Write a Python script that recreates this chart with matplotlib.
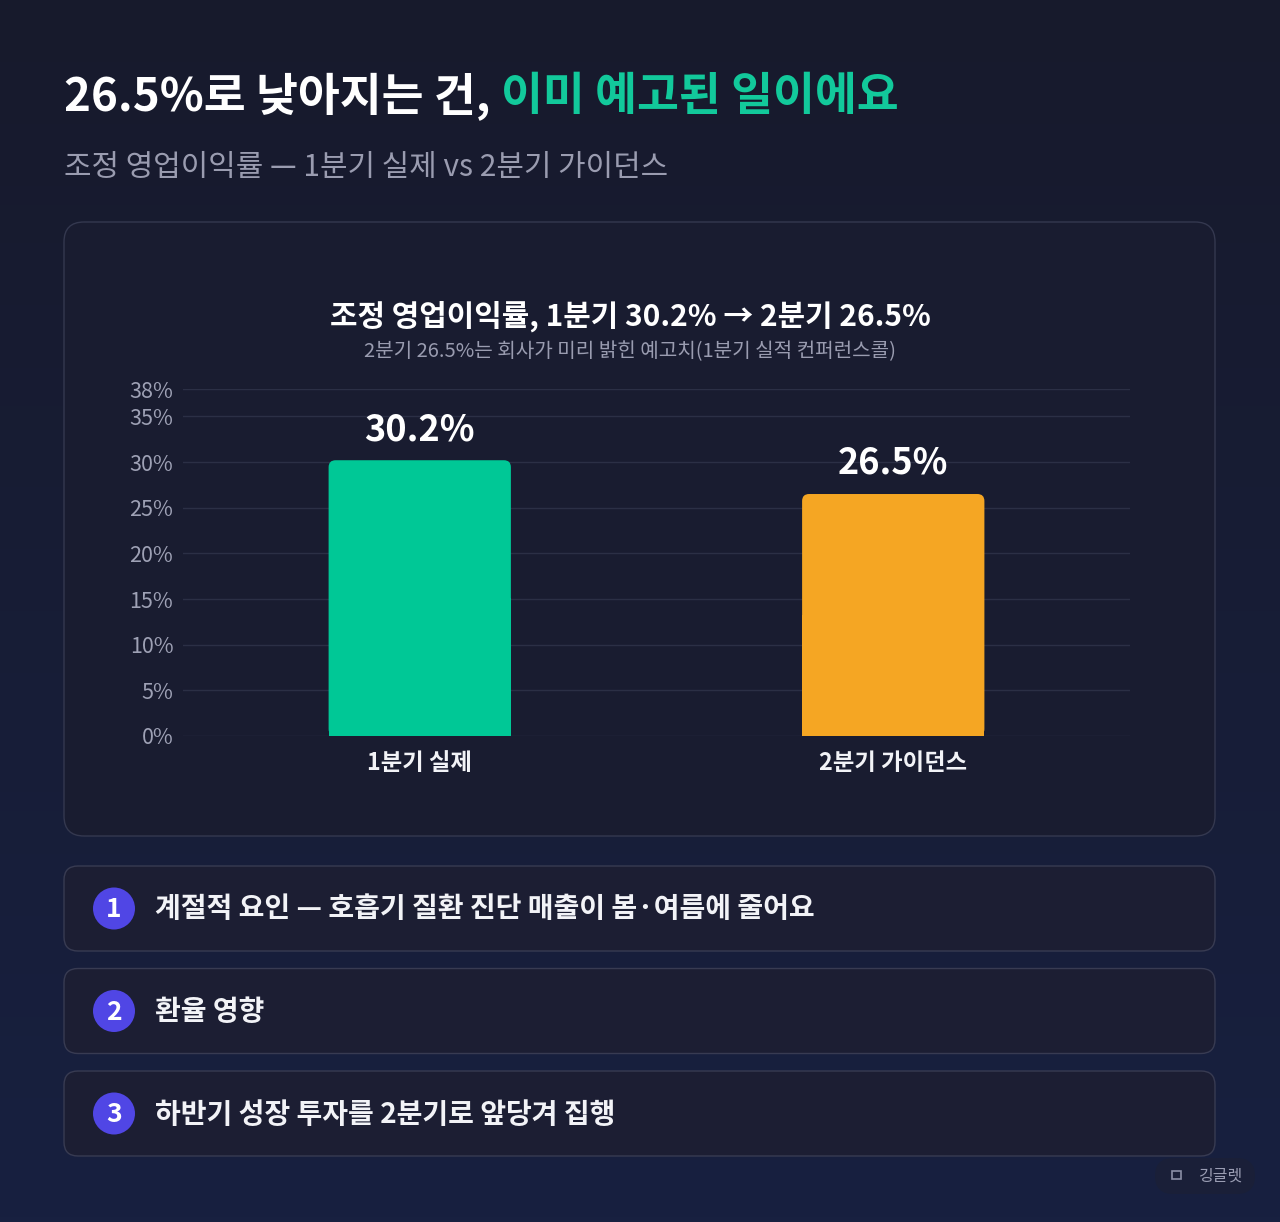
import matplotlib
matplotlib.use("Agg")
import matplotlib.pyplot as plt
import numpy as np
from matplotlib.patches import FancyBboxPatch, Rectangle, Circle

plt.rcParams['font.family'] = ['Noto Sans CJK KR', 'DejaVu Sans']

# data
categories = ["1분기 실제", "2분기 가이던스"]
values = [30.2, 26.5]
bar_colors = ["#00C896", "#F5A623"]
yticks = [0, 5, 10, 15, 20, 25, 30, 35, 38]
reasons = [
    "계절적 요인 — 호흡기 질환 진단 매출이 봄·여름에 줄어요",
    "환율 영향",
    "하반기 성장 투자를 2분기로 앞당겨 집행",
]

W, H = 1280, 1222
fig = plt.figure(figsize=(W / 100, H / 100), dpi=100)

# background layer in pixel coords (y down)
bg = fig.add_axes([0, 0, 1, 1], zorder=-1)
bg.set_xlim(0, W)
bg.set_ylim(H, 0)
bg.axis("off")
top = np.array([0x17, 0x1a, 0x2c]) / 255
bot = np.array([0x18, 0x20, 0x40]) / 255
t = np.linspace(0, 1, 256)[:, None]
grad = (top * (1 - t) + bot * t)[:, None, :]
bg.imshow(grad, extent=[0, W, H, 0], aspect="auto", zorder=0)

# card
bg.add_patch(FancyBboxPatch((64, 222), 1151, 614, boxstyle="round,pad=0,rounding_size=20",
                            fc="#191c30", ec="#34384f", lw=1.0, zorder=1))

# headline
t1 = bg.text(64, 97, "26.5%로 낮아지는 건, ", fontsize=32.8, fontweight="bold", color="white",
             va="center", ha="left", zorder=3)
bg.annotate("이미 예고된 일이에요", xy=(1, 0.5), xycoords=t1, fontsize=32.8, fontweight="bold",
            color="#12C99B", va="center", ha="left", zorder=3)
bg.text(64, 167, "조정 영업이익률 — 1분기 실제 vs 2분기 가이던스", fontsize=21.5, color="#9a9cb0",
        va="center", ha="left", zorder=3)

# chart titles
bg.text(630, 316, "조정 영업이익률, 1분기 30.2% → 2분기 26.5%", fontsize=21.5, fontweight="bold",
        color="white", va="center", ha="center", zorder=3)
bg.text(630, 352, "2분기 26.5%는 회사가 미리 밝힌 예고치(1분기 실적 컨퍼런스콜)", fontsize=14.5,
        color="#9a9cb0", va="center", ha="center", zorder=3)

# reason boxes
for i, txt in enumerate(reasons):
    y0 = 866 + i * 102.5
    bg.add_patch(FancyBboxPatch((64, y0), 1151, 85, boxstyle="round,pad=0,rounding_size=14",
                                fc="#1c1e33", ec="#383b52", lw=1.0, zorder=1))
    cy = y0 + 42.5
    bg.add_patch(Circle((114, cy), 21, fc="#5046E5", ec="none", zorder=2))
    bg.text(114, cy + 1, str(i + 1), fontsize=19, fontweight="bold", color="white",
            ha="center", va="center", zorder=3)
    bg.text(155, cy + 1, txt, fontsize=20.2, fontweight="bold", color="#f2f3f7",
            ha="left", va="center", zorder=3)

# footer
bg.add_patch(FancyBboxPatch((1155, 1158), 100, 36, boxstyle="round,pad=0,rounding_size=18",
                            fc="#1a1f38", ec="none", zorder=1))
bg.add_patch(Rectangle((1172, 1171), 9, 8, fc="none", ec="#8a8ea6", lw=1.2, zorder=2))
bg.text(1198, 1176, "깅글렛", fontsize=11.5, color="#9a9db3", ha="left", va="center", zorder=3)

# chart axes
x0, x1, ytop, ybot = 183, 1130, 389, 736
ax = fig.add_axes([x0 / W, (H - ybot) / H, (x1 - x0) / W, (ybot - ytop) / H])
ax.set_facecolor("none")
ax.set_xlim(-0.5, 1.5)
ax.set_ylim(0, 38)
ax.set_yticks(yticks)
ax.set_yticklabels([f"{v}%" for v in yticks])
ax.set_xticks(range(len(categories)))
ax.set_xticklabels(categories, fontweight="bold")
ax.tick_params(axis="y", length=0, pad=7, labelsize=15.5, labelcolor="#9ea1b5")
ax.tick_params(axis="x", length=0, pad=11, labelsize=16.8, labelcolor="#f2f3f7")
for s in ax.spines.values():
    s.set_visible(False)
ax.grid(axis="y", color="#2b2f45", lw=1.0)
ax.set_axisbelow(True)

bw = 0.385
xpp = 2.0 / (x1 - x0)
ypp = 38.0 / (ybot - ytop)
r = 7 * xpp
for i, (v, c) in enumerate(zip(values, bar_colors)):
    ax.add_patch(FancyBboxPatch((i - bw / 2, 0), bw, v, boxstyle=f"round,pad=0,rounding_size={r}",
                                mutation_aspect=ypp / xpp, fc=c, ec="none", zorder=2))
    ax.add_patch(Rectangle((i - bw / 2, 0), bw, v / 2, fc=c, ec="none", zorder=2))
    ax.annotate(f"{v}%", xy=(i, v), xytext=(0, 22), textcoords="offset points",
                ha="center", va="center", fontsize=26, fontweight="bold", color="white")

fig.savefig("out.png", dpi=100)
